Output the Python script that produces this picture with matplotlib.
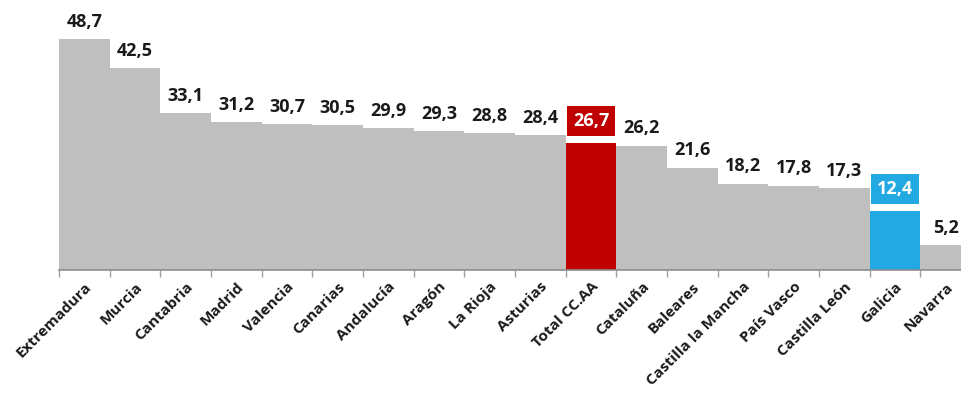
import matplotlib
matplotlib.use("Agg")
import matplotlib.pyplot as plt

regions = ["Extremadura", "Murcia", "Cantabria", "Madrid", "Valencia", "Canarias",
           "Andalucía", "Aragón", "La Rioja", "Asturias", "Total CC.AA", "Cataluña",
           "Baleares", "Castilla la Mancha", "País Vasco", "Castilla León", "Galicia",
           "Navarra"]
values = [48.7, 42.5, 33.1, 31.2, 30.7, 30.5, 29.9, 29.3, 28.8, 28.4, 26.7, 26.2,
          21.6, 18.2, 17.8, 17.3, 12.4, 5.2]
highlight = {"Total CC.AA": "#C00000", "Galicia": "#22A9E1"}

GRAY = "#BFBFBF"
TEXT = "#1A1A1A"
plt.rcParams["font.family"] = ["Open Sans", "DejaVu Sans"]

fig = plt.figure(figsize=(9.62, 3.96), dpi=100)
# axes runs a little past the right edge so the last bar is cut off
ax = fig.add_axes([59 / 962, 1 - 270 / 396, 912 / 962, 231 / 396])

x = range(len(regions))
colors = [highlight.get(r, GRAY) for r in regions]
ax.bar(x, values, width=1.0, color=colors, edgecolor="none")

ax.set_xlim(-0.5, len(regions) - 0.5)
ax.set_ylim(0, 48.7)

for i, (r, v) in enumerate(zip(regions, values)):
    label = f"{v:.1f}".replace(".", ",")
    if r in highlight:
        ax.annotate(label, (i, v), xytext=(0, 9.5), textcoords="offset points",
                    ha="center", va="bottom", fontsize=13, fontweight="bold",
                    color="white", annotation_clip=False,
                    bbox=dict(boxstyle="square,pad=0.33", fc=highlight[r], ec="none"))
    else:
        ax.annotate(label, (i, v), xytext=(0, 6), textcoords="offset points",
                    ha="center", va="bottom", fontsize=13, fontweight="bold",
                    color=TEXT, annotation_clip=False)

for s in ["top", "right", "left"]:
    ax.spines[s].set_visible(False)
ax.spines["bottom"].set_color("#8C8C8C")
ax.spines["bottom"].set_linewidth(1.2)
ax.set_yticks([])

ax.set_xticks([i - 0.5 for i in range(len(regions) + 1)], minor=True)
ax.tick_params(axis="x", which="minor", length=5, color="#A0A0A0", width=1)
ax.set_xticks(list(x))
ax.set_xticklabels(regions, rotation=45, ha="right", rotation_mode="anchor",
                   fontsize=11, fontweight="bold", color=TEXT)
ax.tick_params(axis="x", which="major", length=0, pad=7)

fig.savefig("out.png", dpi=100, facecolor="white")
